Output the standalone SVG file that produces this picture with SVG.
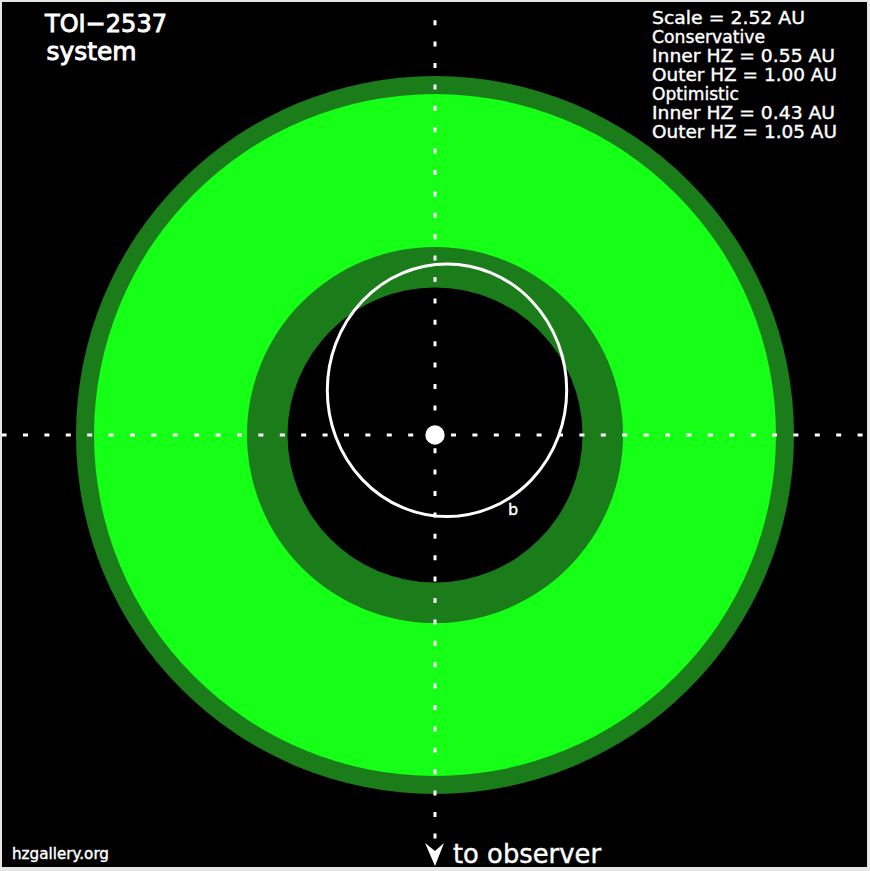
<svg xmlns="http://www.w3.org/2000/svg" width="870" height="871" viewBox="0 0 870 871">
<style>
.t{fill:#fff;stroke:#fff;stroke-width:0.4;font-family:"DejaVu Sans","Liberation Sans",sans-serif}
.h{stroke-width:0.9}
.dash{stroke:#fff;stroke-width:3;stroke-dasharray:5 16.4;fill:none}
</style>
<rect x="0" y="0" width="870" height="871" fill="#e6e6e6"/>
<rect x="2" y="2" width="865" height="865" fill="#000"/>
<g id="hz">
<circle cx="435" cy="435" r="359" fill="#1a7d1a"/>
<circle cx="435" cy="435" r="341" fill="#16ff16"/>
<circle cx="435" cy="435" r="188" fill="#1a7d1a"/>
<circle cx="435" cy="435" r="147.5" fill="#000"/>
</g>
<g id="connectors">
<line class="dash" x1="1.6" y1="435" x2="868" y2="435"/>
<line class="dash" x1="435" y1="20.2" x2="435" y2="838.4"/>
<polygon points="425,843 435,851 444,843 435,866" fill="#fff"/>
</g>
<g id="orbit-b">
<ellipse cx="447" cy="390.3" rx="119.7" ry="126.3" fill="none" stroke="#fff" stroke-width="3"/>
<text class="t" x="508" y="515" font-size="16">b</text>
</g>
<g id="star">
<circle cx="435" cy="435" r="9.7" fill="#fff"/>
</g>
<g id="title">
<text class="t h" x="45" y="31.5" font-size="25" textLength="122" lengthAdjust="spacingAndGlyphs">TOI−2537</text>
<text class="t h" x="46.5" y="60" font-size="24" textLength="90" lengthAdjust="spacingAndGlyphs">system</text>
</g>
<g id="legend">
<text class="t" x="652" y="23.5" font-size="18" textLength="153" lengthAdjust="spacingAndGlyphs">Scale = 2.52 AU</text>
<text class="t" x="652" y="42.5" font-size="18" textLength="113" lengthAdjust="spacingAndGlyphs">Conservative</text>
<text class="t" x="652" y="61.5" font-size="18" textLength="183" lengthAdjust="spacingAndGlyphs">Inner HZ = 0.55 AU</text>
<text class="t" x="652" y="80.5" font-size="18" textLength="185" lengthAdjust="spacingAndGlyphs">Outer HZ = 1.00 AU</text>
<text class="t" x="652" y="99.5" font-size="18" textLength="87" lengthAdjust="spacingAndGlyphs">Optimistic</text>
<text class="t" x="652" y="118.5" font-size="18" textLength="183" lengthAdjust="spacingAndGlyphs">Inner HZ = 0.43 AU</text>
<text class="t" x="652" y="137.5" font-size="18" textLength="185" lengthAdjust="spacingAndGlyphs">Outer HZ = 1.05 AU</text>
</g>
<g id="observer">
<text class="t" x="453" y="863" font-size="26" textLength="148" lengthAdjust="spacingAndGlyphs">to observer</text>
</g>
<g id="credit">
<text class="t" x="12" y="859" font-size="15" textLength="97" lengthAdjust="spacingAndGlyphs">hzgallery.org</text>
</g>
</svg>
